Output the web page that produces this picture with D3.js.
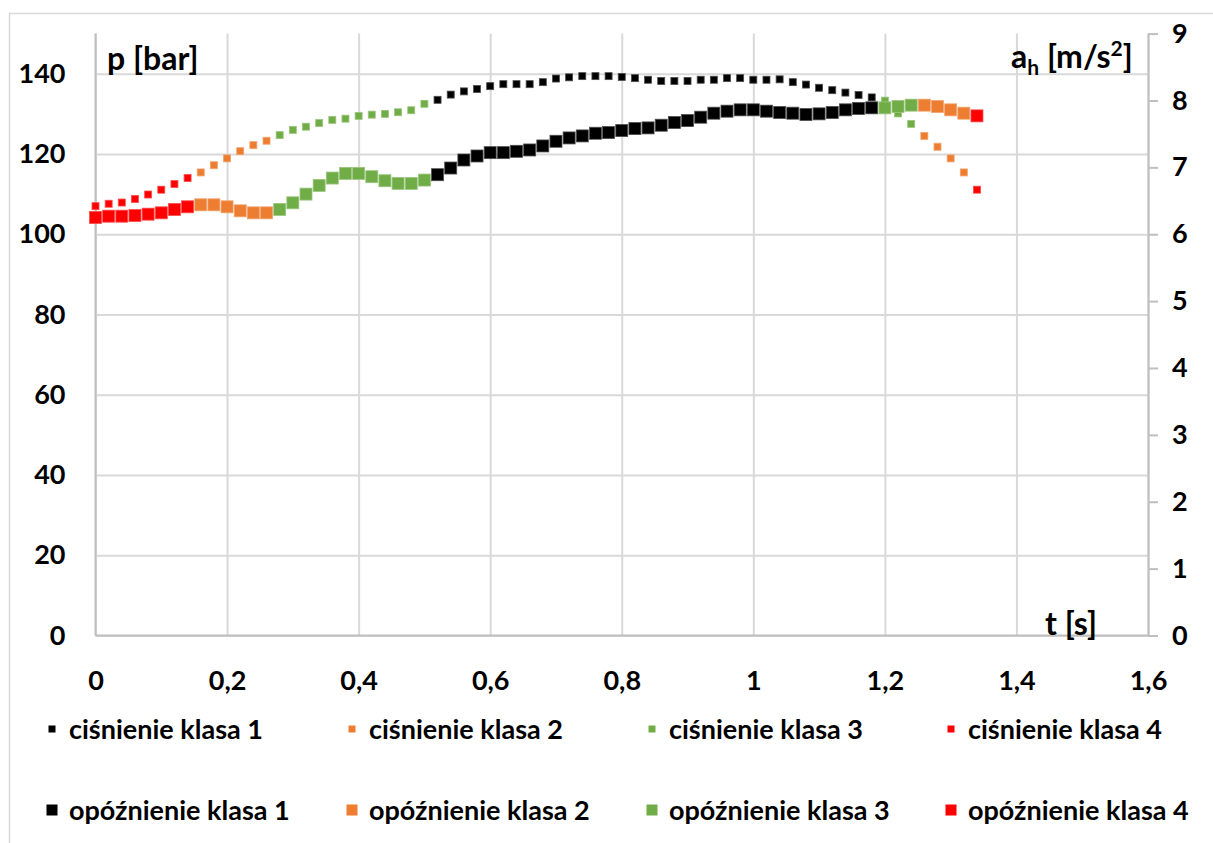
<!DOCTYPE html>
<html>
<head>
<meta charset="utf-8">
<script src="https://cdn.jsdelivr.net/npm/d3@7"></script>
<style>
  body { margin: 0; background: #fff; }
  text { font-family: Lato, "Open Sans", sans-serif; font-weight: 700; fill: #000; }
</style>
</head>
<body>
<svg id="chart" width="1213" height="843"></svg>
<script>
// Sample times [s]
const times = [
  0, 0.02, 0.04, 0.06, 0.08, 0.10, 0.12, 0.14, 0.16, 0.18,
  0.20, 0.22, 0.24, 0.26, 0.28, 0.30, 0.32, 0.34, 0.36, 0.38,
  0.40, 0.42, 0.44, 0.46, 0.48, 0.50, 0.52, 0.54, 0.56, 0.58,
  0.60, 0.62, 0.64, 0.66, 0.68, 0.70, 0.72, 0.74, 0.76, 0.78,
  0.80, 0.82, 0.84, 0.86, 0.88, 0.90, 0.92, 0.94, 0.96, 0.98,
  1.00, 1.02, 1.04, 1.06, 1.08, 1.10, 1.12, 1.14, 1.16, 1.18,
  1.20, 1.22, 1.24, 1.26, 1.28, 1.30, 1.32, 1.34
];

// Brake pressure p [bar]
const pressure = [
  107.0, 107.6, 107.9, 108.8, 109.9, 111.1, 112.5, 114.0, 115.4, 117.2,
  118.9, 120.7, 122.2, 123.3, 124.7, 126.0, 126.8, 127.7, 128.5, 128.8,
  129.5, 129.8, 130.0, 130.4, 130.9, 132.5, 133.5, 134.8, 135.6, 136.2,
  136.9, 137.4, 137.4, 137.4, 137.9, 138.8, 139.1, 139.4, 139.4, 139.4,
  139.2, 138.9, 138.5, 138.2, 138.2, 138.2, 138.5, 138.5, 138.9, 138.9,
  138.5, 138.5, 138.6, 137.9, 137.3, 136.5, 135.9, 135.3, 134.7, 134.1,
  133.3, 130.1, 127.5, 124.5, 121.8, 118.9, 115.4, 111.1
];

// Deceleration a_h [m/s²]
const deceleration = [
  6.25, 6.27, 6.27, 6.28, 6.30, 6.32, 6.37, 6.41, 6.44, 6.44,
  6.41, 6.35, 6.32, 6.32, 6.37, 6.47, 6.60, 6.73, 6.84, 6.91,
  6.91, 6.86, 6.80, 6.76, 6.76, 6.81, 6.89, 6.99, 7.11, 7.17,
  7.22, 7.22, 7.24, 7.26, 7.32, 7.39, 7.44, 7.47, 7.51, 7.52,
  7.55, 7.58, 7.59, 7.63, 7.67, 7.70, 7.75, 7.81, 7.84, 7.86,
  7.86, 7.84, 7.82, 7.81, 7.79, 7.80, 7.82, 7.86, 7.88, 7.89,
  7.89, 7.91, 7.93, 7.93, 7.91, 7.86, 7.81, 7.77
];

// Class assigned to each sample
const sampleClass = [
  4, 4, 4, 4, 4, 4, 4, 4, 2, 2,
  2, 2, 2, 2, 3, 3, 3, 3, 3, 3,
  3, 3, 3, 3, 3, 3, 1, 1, 1, 1,
  1, 1, 1, 1, 1, 1, 1, 1, 1, 1,
  1, 1, 1, 1, 1, 1, 1, 1, 1, 1,
  1, 1, 1, 1, 1, 1, 1, 1, 1, 1,
  3, 3, 3, 2, 2, 2, 2, 4
];

const classes = [1, 2, 3, 4];
const classColors = ["#000000", "#ED7D31", "#70AD47", "#FF0000"];
const pressureNames = ["ciśnienie klasa 1", "ciśnienie klasa 2", "ciśnienie klasa 3", "ciśnienie klasa 4"];
const decelNames = ["opóźnienie klasa 1", "opóźnienie klasa 2", "opóźnienie klasa 3", "opóźnienie klasa 4"];

const xTicks = [0, 0.2, 0.4, 0.6, 0.8, 1.0, 1.2, 1.4, 1.6];
const leftTicks = [0, 20, 40, 60, 80, 100, 120, 140];
const rightTicks = [0, 1, 2, 3, 4, 5, 6, 7, 8, 9];

const svg = d3.select("#chart");
const plot = { left: 95.5, right: 1148, top: 33.6, bottom: 635.5 };

const x = d3.scaleLinear().domain([0, 1.6]).range([plot.left, plot.right]);
const yL = d3.scaleLinear().domain([0, 150]).range([plot.bottom, plot.top]);
const yR = d3.scaleLinear().domain([0, 9]).range([plot.bottom, plot.top]);

const pl = d3.formatLocale({ decimal: ",", thousands: " ", grouping: [3], currency: ["", ""] });
const fmt = pl.format("~g");

const gridColor = "#d9d9d9";
const axisColor = "#bfbfbf";
const fontSize = 27;
const titleSize = 32;

// Outer chart frame
svg.append("rect")
  .attr("x", 9.5).attr("y", 13.5)
  .attr("width", 1215).attr("height", 840)
  .attr("fill", "#fff").attr("stroke", gridColor).attr("stroke-width", 1.5);

// Vertical gridlines
svg.append("g")
  .attr("transform", `translate(0,${plot.bottom})`)
  .call(d3.axisBottom(x).tickValues(xTicks).tickSize(-(plot.bottom - plot.top)).tickFormat(""))
  .call(g => g.select(".domain").remove())
  .call(g => g.selectAll(".tick line").attr("stroke", gridColor).attr("stroke-width", 2));

// Horizontal gridlines
svg.append("g")
  .attr("transform", `translate(${plot.left},0)`)
  .call(d3.axisLeft(yL).tickValues(leftTicks).tickSize(-(plot.right - plot.left)).tickFormat(""))
  .call(g => g.select(".domain").remove())
  .call(g => g.selectAll(".tick line").attr("stroke", gridColor).attr("stroke-width", 2));

// Left and bottom axis lines
svg.append("line")
  .attr("x1", plot.left).attr("x2", plot.left)
  .attr("y1", plot.top).attr("y2", plot.bottom)
  .attr("stroke", axisColor).attr("stroke-width", 2);
svg.append("line")
  .attr("x1", plot.left).attr("x2", plot.right)
  .attr("y1", plot.bottom).attr("y2", plot.bottom)
  .attr("stroke", axisColor).attr("stroke-width", 2);

// Left axis labels (pressure)
svg.append("g")
  .attr("transform", `translate(${plot.left},0)`)
  .call(d3.axisLeft(yL).tickValues(leftTicks).tickSize(0).tickPadding(30).tickFormat(fmt))
  .call(g => g.select(".domain").remove())
  .call(g => g.selectAll("text").attr("font-size", fontSize).attr("font-family", null));

// Bottom axis labels (time)
svg.append("g")
  .attr("transform", `translate(0,${plot.bottom})`)
  .call(d3.axisBottom(x).tickValues(xTicks).tickSize(0).tickPadding(35).tickFormat(fmt))
  .call(g => g.select(".domain").remove())
  .call(g => g.selectAll("text").attr("font-size", fontSize).attr("font-family", null));

// Right axis (deceleration)
svg.append("g")
  .attr("transform", `translate(${plot.right},0)`)
  .call(d3.axisRight(yR).tickValues(rightTicks).tickSize(10).tickPadding(14).tickSizeOuter(0).tickFormat(fmt))
  .call(g => g.select(".domain").attr("stroke", axisColor).attr("stroke-width", 2))
  .call(g => g.selectAll(".tick line").attr("stroke", axisColor).attr("stroke-width", 2))
  .call(g => g.selectAll("text").attr("font-size", fontSize).attr("font-family", null));

// Axis titles
svg.append("text").attr("x", 107).attr("y", 70).attr("font-size", titleSize).text("p [bar]");

const ah = svg.append("text").attr("x", 1011).attr("y", 68).attr("font-size", titleSize);
ah.append("tspan").text("a");
ah.append("tspan").attr("font-size", 21).attr("dy", 7).text("h");
ah.append("tspan").attr("dy", -7).text(" [m/s");
ah.append("tspan").attr("font-size", 21).attr("dy", -12).text("2");
ah.append("tspan").attr("dy", 12).text("]");

svg.append("text").attr("x", 1045).attr("y", 635).attr("font-size", titleSize).text("t [s]");

// Marker series: pressure (small squares) first, deceleration (large squares) on top
function tint(c) { return d3.interpolateRgb(c, "#ffffff")(0.3); }

const series = [];
classes.forEach((k, i) => series.push({ name: pressureNames[i], color: classColors[i], size: 7, y: yL,
  pts: times.map((t, j) => ({ t, v: pressure[j], k: sampleClass[j] })).filter(d => d.k === k) }));
classes.forEach((k, i) => series.push({ name: decelNames[i], color: classColors[i], size: 12, y: yR,
  pts: times.map((t, j) => ({ t, v: deceleration[j], k: sampleClass[j] })).filter(d => d.k === k) }));

const marks = svg.append("g");
series.forEach(s => {
  marks.append("g").selectAll("rect").data(s.pts).join("rect")
    .attr("x", d => x(d.t) - s.size / 2)
    .attr("y", d => s.y(d.v) - s.size / 2)
    .attr("width", s.size).attr("height", s.size)
    .attr("fill", s.color)
    .attr("stroke", tint(s.color)).attr("stroke-width", 0.8);
});

// Legend: two rows of four entries
const legendCols = [52, 352, 652, 951];
const legendRows = [729, 810];
const legend = svg.append("g");
series.forEach((s, i) => {
  const cx = legendCols[i % 4];
  const cy = legendRows[Math.floor(i / 4)];
  const sz = i < 4 ? 7 : 11;
  legend.append("rect")
    .attr("x", cx - sz / 2).attr("y", cy - sz / 2)
    .attr("width", sz).attr("height", sz)
    .attr("fill", s.color);
  legend.append("text")
    .attr("x", cx + 17).attr("y", cy)
    .attr("dy", "0.36em")
    .attr("font-size", fontSize)
    .text(s.name);
});
</script>
</body>
</html>
